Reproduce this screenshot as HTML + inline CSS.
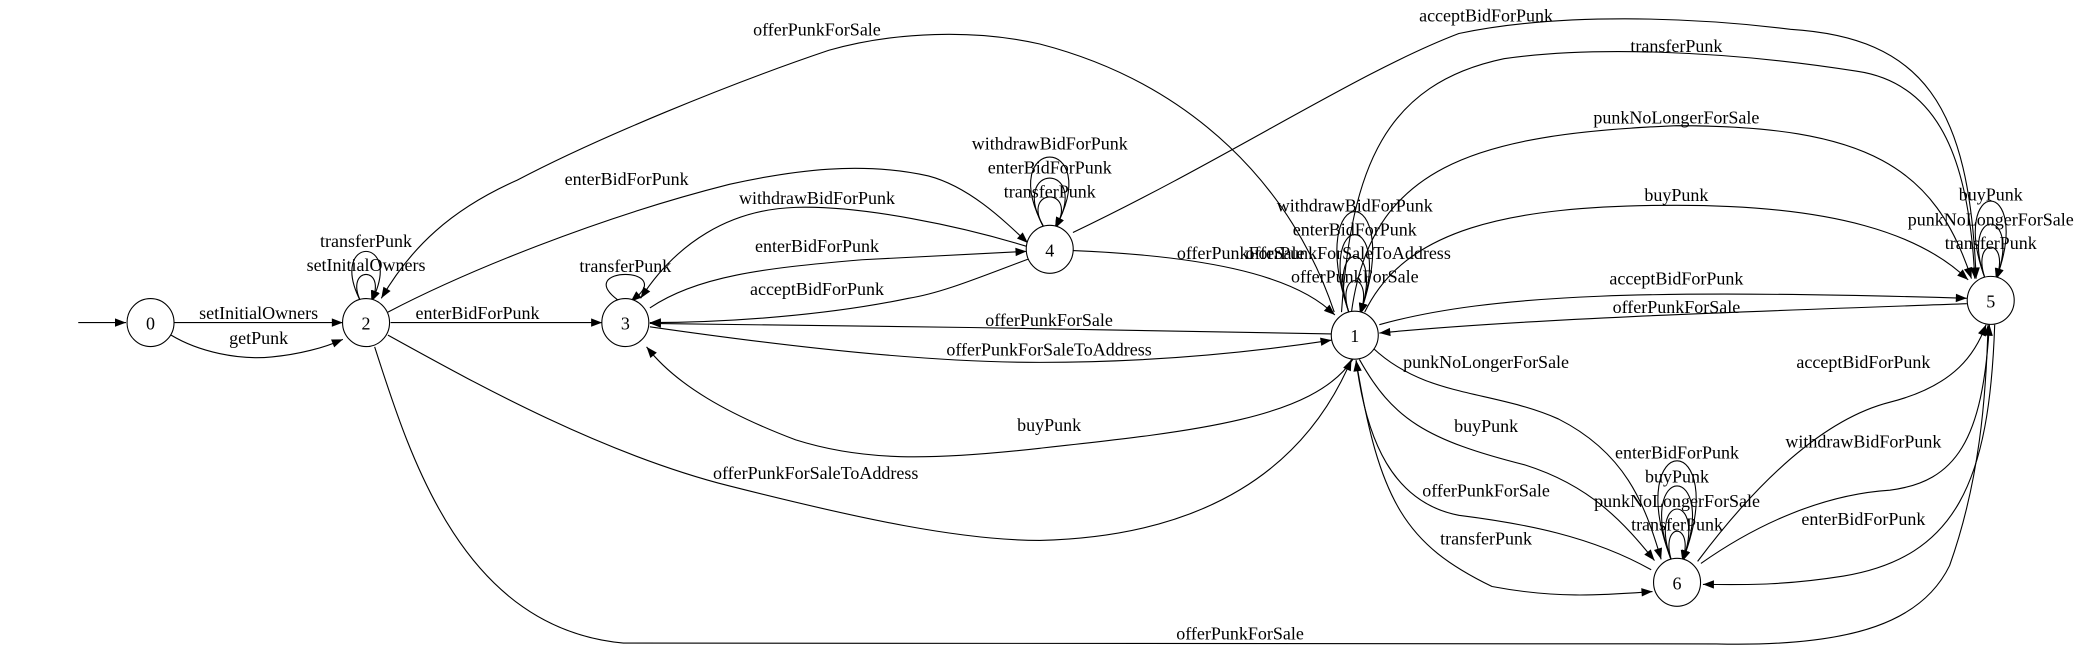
<!DOCTYPE html>
<html><head><meta charset="utf-8"><style>
html,body{margin:0;padding:0;background:#fff;}
svg{display:block;}
text{font-family:"Liberation Serif",serif;font-size:18px;fill:#000;}
</style></head><body>
<svg id="g" width="2078" height="657" viewBox="0 0 2078 657" xmlns="http://www.w3.org/2000/svg">
<g id="edges" transform="scale(0.66313,0.41894)"></g>
<g id="heads"></g>
<g id="labels"></g>
<g id="nodes"></g>
</svg>
<script>
const SX=1.508, SY=2.387;
const nodeIds=['0','1','2','3','4','5','6'];
const nodeX=[227,2043,552,943,1583,3002,2529];
const nodeY=[770,800,770,770,595,717,1390];
const edgePaths=[
"M118,770 L190,770",
"M262,770 L517,770",
"M258,800 C300,840 360,860 410,852 C450,846 490,830 517,810",
"M589,770 L908,770",
"M565,828 C620,1100 700,1500 940,1535 L2588,1537 C2800,1545 2900,1480 2940,1350 C2985,1150 2995,950 2998,775",
"M585,800 C700,900 900,1080 1100,1160 C1300,1240 1450,1290 1568,1290 C1818,1280 1968,1120 2038,858",
"M2012,745 C1950,450 1800,200 1568,105 C1470,70 1350,75 1250,120 C1100,200 900,330 780,430 C680,500 620,590 575,712",
"M585,745 C700,650 900,520 1100,440 C1200,405 1300,385 1400,420 C1460,445 1510,520 1550,580",
"M1548,588 C1450,540 1300,490 1200,495 C1100,500 1020,580 966,712",
"M980,735 C1050,660 1150,640 1300,620 L1548,600",
"M1553,617 C1480,660 1420,700 1370,712 C1250,752 1100,770 980,770",
"M2008,797 C1700,787 1300,777 980,772",
"M980,780 C1200,830 1400,865 1568,865 C1700,865 1850,850 2008,812",
"M2040,858 C1980,1000 1800,1030 1568,1070 C1400,1100 1300,1100 1200,1050 C1100,990 1020,920 975,828",
"M1618,598 C1800,610 1950,650 2013,752",
"M1618,555 C1850,380 2050,170 2200,80 C2350,30 2550,40 2700,70 C2900,90 2970,250 2980,665",
"M2023,745 C2038,400 2088,200 2268,140 C2400,110 2600,120 2800,170 C2930,200 2970,400 2978,665",
"M2038,745 C2068,400 2218,320 2528,300 C2818,300 2918,400 2973,665",
"M2058,745 C2118,550 2268,490 2528,490 C2768,490 2898,560 2968,668",
"M2080,775 C2250,700 2500,690 2966,712",
"M2966,725 C2700,740 2300,760 2080,795",
"M2070,830 C2150,950 2250,930 2350,1000 C2450,1080 2480,1200 2505,1335",
"M2050,858 C2100,1000 2150,1050 2300,1110 C2400,1160 2450,1250 2495,1338",
"M2490,1360 C2400,1280 2300,1250 2200,1230 C2100,1200 2060,1050 2045,860",
"M2045,860 C2080,1200 2120,1300 2250,1400 C2350,1430 2420,1420 2492,1412",
"M2560,1340 C2650,1150 2750,1000 2850,960 C2950,920 2980,840 2995,775",
"M2565,1345 C2650,1250 2750,1180 2850,1170 C2950,1150 2990,1050 3000,775",
"M3008,775 C3000,1150 2950,1330 2780,1375 C2680,1400 2620,1395 2568,1395"
];
const edgeLabels=["","setInitialOwners","getPunk","enterBidForPunk","offerPunkForSale","offerPunkForSaleToAddress","offerPunkForSale","enterBidForPunk","withdrawBidForPunk","enterBidForPunk","acceptBidForPunk","offerPunkForSale","offerPunkForSaleToAddress","buyPunk","offerPunkForSale","acceptBidForPunk","transferPunk","punkNoLongerForSale","buyPunk","acceptBidForPunk","offerPunkForSale","punkNoLongerForSale","buyPunk","offerPunkForSale","transferPunk","acceptBidForPunk","withdrawBidForPunk","enterBidForPunk"];
const labelX=[0,390,390,720,1870,1230,1232,945,1232,1232,1232,1582,1582,1582,1871,2241,2528,2528,2528,2528,2528,2241,2241,2241,2241,2810,2810,2810];
const labelY=[0,745,805,745,1510,1127,68,425,470,585,688,762,832,1012,602,35,107,278,463,662,730,862,1015,1168,1283,862,1052,1237];
const loopNode=[2,2,3,4,4,4,1,1,1,1,5,5,5,6,6,6,6];
const loopPeak=[600,655,655,375,425,470,505,560,612,670,480,535,590,1100,1160,1215,1268];
const loopW=[40,20,60,60,45,30,55,42,30,18,45,32,18,60,45,30,15];
const loopLabel=["transferPunk","setInitialOwners","transferPunk","withdrawBidForPunk","enterBidForPunk","transferPunk","withdrawBidForPunk","enterBidForPunk","offerPunkForSaleToAddress","offerPunkForSale","buyPunk","punkNoLongerForSale","transferPunk","enterBidForPunk","buyPunk","punkNoLongerForSale","transferPunk"];
const loopLX=[552,552,943,1583,1583,1583,2043,2043,2033,2043,3002,3002,3002,2529,2529,2529,2529];
const loopLY=[573,630,632,340,397,455,488,545,602,658,462,522,578,1078,1135,1193,1250];

const NS="http://www.w3.org/2000/svg";
const E=document.getElementById('edges'),H=document.getElementById('heads'),L=document.getElementById('labels'),N=document.getElementById('nodes');
function addHead(p){
  const len=p.getTotalLength();
  const a=p.getPointAtLength(len), b=p.getPointAtLength(Math.max(0,len-25));
  const ax=a.x/SX, ay=a.y/SY, bx=b.x/SX, by=b.y/SY;
  let dx=ax-bx, dy=ay-by; const d=Math.hypot(dx,dy)||1; dx/=d; dy/=d;
  const bl=11, hw=4.2;
  const cx=ax-dx*bl, cy=ay-dy*bl;
  const t=document.createElementNS(NS,'polygon');
  t.setAttribute('points',`${ax},${ay} ${cx-dy*hw},${cy+dx*hw} ${cx+dy*hw},${cy-dx*hw}`);
  t.setAttribute('fill','#000');
  
  
  H.appendChild(t);
}
function addPath(d,name){
  const p=document.createElementNS(NS,'path');
  p.setAttribute('d',d);p.setAttribute('fill','none');p.setAttribute('stroke','#000');
  p.setAttribute('stroke-width','1.1');p.setAttribute('vector-effect','non-scaling-stroke');
  
  
  E.appendChild(p);addHead(p);
}
function addLabel(t,x,y,name){
  const el=document.createElementNS(NS,'text');
  el.setAttribute('x',x/SX);el.setAttribute('y',y/SY+1);
  el.setAttribute('text-anchor','middle');el.setAttribute('dominant-baseline','central');
  el.textContent=t;
  
  
  L.appendChild(el);
}
edgePaths.forEach((d,i)=>{addPath(d,i==0?'start-arrow':'edge-'+i);if(edgeLabels[i])addLabel(edgeLabels[i],labelX[i],labelY[i],'edge-label-'+i);});
loopNode.forEach((n,i)=>{
  const cx=nodeX[n], cy=nodeY[n], y0=cy-50, w=loopW[i];
  const yc=(loopPeak[i]-0.25*y0)/0.75;
  const d=`M${cx-8},${y0} C${cx-8-w*1.3},${yc} ${cx+8+w*1.3},${yc} ${cx+8},${y0}`;
  addPath(d,'self-loop-'+i);
  addLabel(loopLabel[i],loopLX[i],loopLY[i],'loop-label-'+i);
});
nodeIds.forEach((id,i)=>{
  const e=document.createElementNS(NS,'ellipse');
  e.setAttribute('cx',nodeX[i]/SX);e.setAttribute('cy',nodeY[i]/SY);
  e.setAttribute('rx',23.5);e.setAttribute('ry',24);
  e.setAttribute('fill','#fff');e.setAttribute('stroke','#000');e.setAttribute('stroke-width','1.1');
  
  
  N.appendChild(e);
  const t=document.createElementNS(NS,'text');
  t.setAttribute('x',nodeX[i]/SX);t.setAttribute('y',nodeY[i]/SY+1);
  t.setAttribute('text-anchor','middle');t.setAttribute('dominant-baseline','central');
  t.textContent=id;
  
  
  N.appendChild(t);
});
</script>
</body></html>
